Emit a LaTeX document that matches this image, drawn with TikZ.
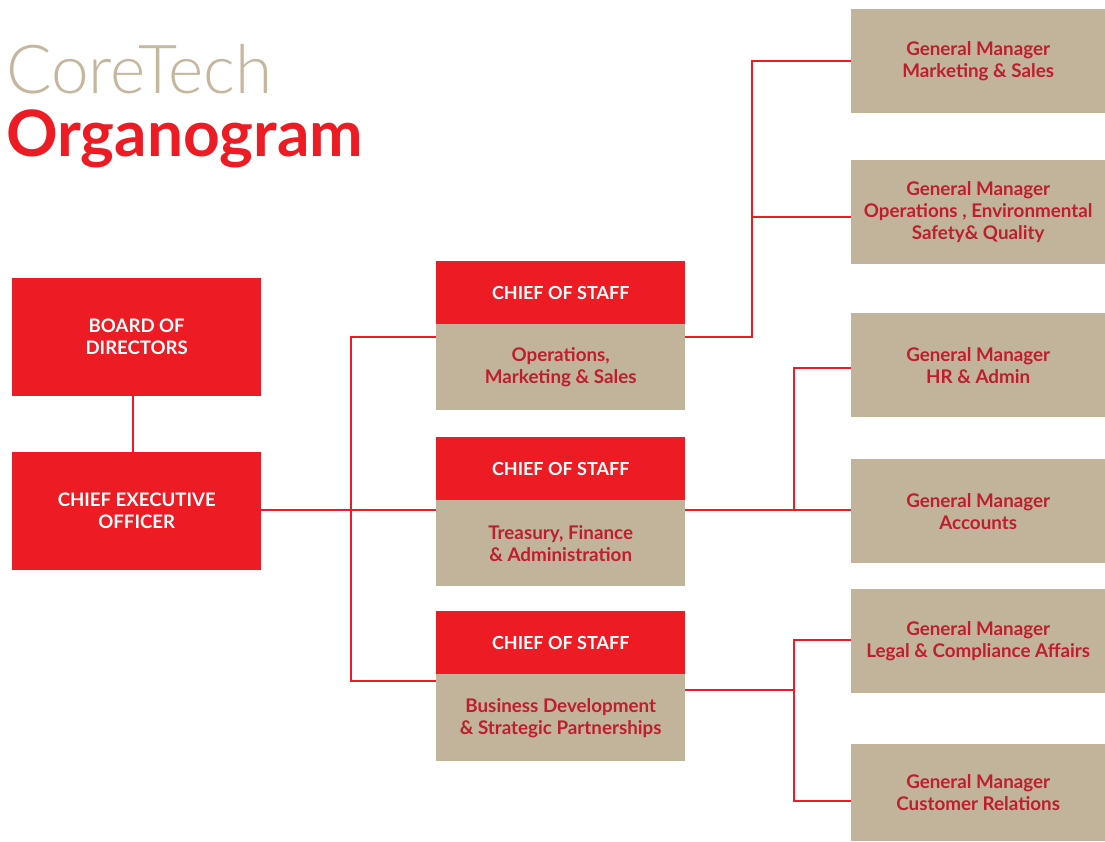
\documentclass[tikz,border=0pt]{standalone}
\usepackage{fontspec}
\setmainfont{Lato}
\newfontfamily\latolight{Lato Light}
\definecolor{cred}{HTML}{ED1C24}
\definecolor{cbeige}{HTML}{C2B49A}
\definecolor{ctext}{HTML}{BE1E2D}
\definecolor{ctitle}{HTML}{C4B79E}
\begin{document}
\begin{tikzpicture}[x=1pt,y=-1pt,
  redbox/.style={fill=cred,text=white,font=\bfseries\fontsize{18.6}{22}\selectfont,inner sep=0pt,anchor=north west,align=center},
  beigebox/.style={fill=cbeige,text=ctext,font=\bfseries\fontsize{18.8}{22}\selectfont,inner sep=0pt,anchor=north west,align=center},
  link/.style={draw=cred,line width=2.2pt}]
\useasboundingbox (0,0) rectangle (1105,841);
% title
\node[anchor=base west,inner sep=0pt,text=ctitle,font=\latolight\fontsize{67.5}{67.5}\selectfont] (t1) at (6,93) {CoreTech};
\node[anchor=base west,inner sep=0pt,text=cred,font=\bfseries\fontsize{64}{64}\selectfont] (t2) at (6,156) {Organogram};
% left
\node[redbox,minimum width=249pt,minimum height=118pt] (board) at (12,278) {BOARD OF\\DIRECTORS};
\node[redbox,minimum width=249pt,minimum height=118pt] (ceo) at (12,452) {CHIEF EXECUTIVE\\OFFICER};
% chiefs
\node[redbox,font=\bfseries\fontsize{18}{22}\selectfont,minimum width=249pt,minimum height=63pt] (c1r) at (436,261) {CHIEF OF STAFF};
\node[beigebox,minimum width=249pt,minimum height=86pt] (c1b) at (436,324) {Operations,\\Marketing \& Sales};
\node[redbox,font=\bfseries\fontsize{18}{22}\selectfont,minimum width=249pt,minimum height=63pt] (c2r) at (436,437) {CHIEF OF STAFF};
\node[beigebox,minimum width=249pt,minimum height=86pt] (c2b) at (436,500) {Treasury, Finance\\\& Administration};
\node[redbox,font=\bfseries\fontsize{18}{22}\selectfont,minimum width=249pt,minimum height=63pt] (c3r) at (436,611) {CHIEF OF STAFF};
\node[beigebox,minimum width=249pt,minimum height=87pt] (c3b) at (436,674) {Business Development\\\& Strategic Partnerships};
% general managers
\node[beigebox,minimum width=254pt,minimum height=104pt] (g1) at (851,9) {General Manager\\Marketing \& Sales};
\node[beigebox,minimum width=254pt,minimum height=104pt] (g2) at (851,160) {General Manager\\Operations , Environmental\\Safety\& Quality};
\node[beigebox,minimum width=254pt,minimum height=104pt] (g3) at (851,313) {General Manager\\HR \& Admin};
\node[beigebox,minimum width=254pt,minimum height=104pt] (g4) at (851,459) {General Manager\\Accounts};
\node[beigebox,minimum width=254pt,minimum height=104pt] (g5) at (851,589) {General Manager\\Legal \& Compliance Affairs};
\node[beigebox,minimum width=254pt,minimum height=97pt] (g6) at (851,744) {General Manager\\Customer Relations};
% junction coordinates
\coordinate (a1) at (351,337);
\coordinate (a2) at (351,510);
\coordinate (a3) at (351,681);
\coordinate (b0) at (752,337);
\coordinate (b1) at (752,61);
\coordinate (b2) at (752,217);
\coordinate (m0) at (794,510);
\coordinate (m1) at (794,368);
\coordinate (n0) at (794,690);
\coordinate (n1) at (794,640);
\coordinate (n2) at (794,801);
% connectors
\draw[link] (board.south -| 133,0) -- (ceo.north -| 133,0);
\draw[link] (ceo.east |- a2) -- (a2 -| c2b.west);
\draw[link] (a1 -| c1b.west) -- (a1) -- (a3) -- (a3 -| c3b.west);
\draw[link] (b0 -| c1b.east) -- (b0) -- (b1) -- (b1 -| g1.west);
\draw[link] (b2) -- (b2 -| g2.west);
\draw[link] (m0 -| c2b.east) -- (m0 -| g4.west);
\draw[link] (m0) -- (m1) -- (m1 -| g3.west);
\draw[link] (n0 -| c3b.east) -- (n0);
\draw[link] (n1 -| g5.west) -- (n1) -- (n2) -- (n2 -| g6.west);
\end{tikzpicture}
\end{document}
